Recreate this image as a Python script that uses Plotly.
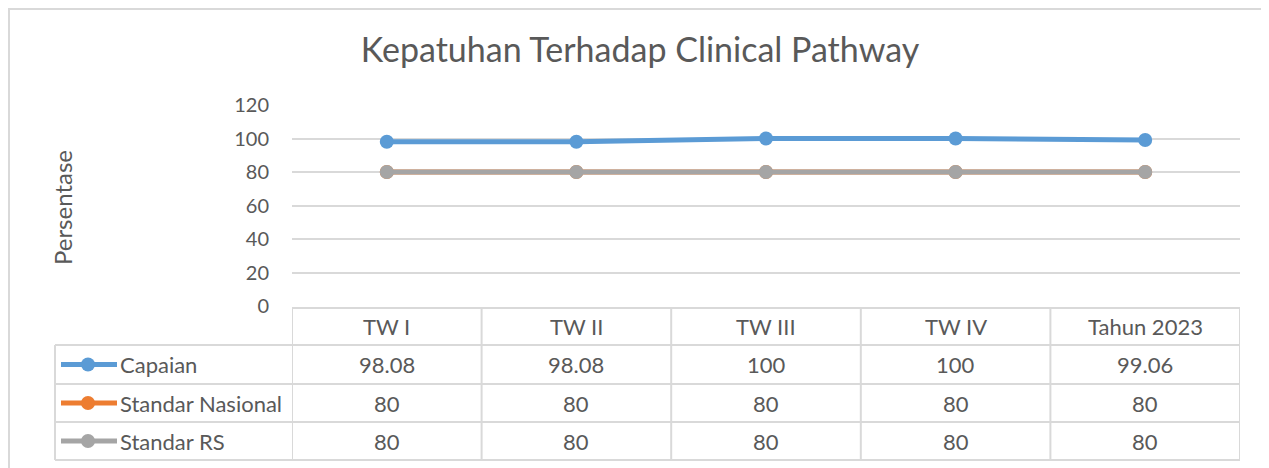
import plotly.graph_objects as go

categories = ["TW I", "TW II", "TW III", "TW IV", "Tahun 2023"]
capaian = [98.08, 98.08, 100, 100, 99.06]
standar_nasional = [80, 80, 80, 80, 80]
standar_rs = [80, 80, 80, 80, 80]
y_ticks = [0, 20, 40, 60, 80, 100, 120]

series_names = ["Capaian", "Standar Nasional", "Standar RS"]
series_values = [capaian, standar_nasional, standar_rs]
series_labels = [["98.08", "98.08", "100", "100", "99.06"], ["80"] * 5, ["80"] * 5]
series_colors = ["#5B9BD5", "#ED7D31", "#A5A5A5"]

FONT = "Lato"
TXT = "#595959"
GRID = "#D9D9D9"

OFF = 8  # page body margin offset
W, H = 1269 - OFF, 468 - OFF
# plot area in screen pixels
SL, SR, ST, SB = 292, 1240, 105, 306
L, R, T, B = SL - OFF, SR - OFF, ST - OFF, SB - OFF
pw, ph = R - L, B - T

def py(p):  # screen pixel y -> paper y
    return (B - (p - OFF)) / ph

def px(p):  # screen pixel x -> paper x
    return ((p - OFF) - L) / pw

fig = go.Figure()
idx = list(range(len(categories)))
for name, vals, col in zip(series_names, series_values, series_colors):
    fig.add_trace(go.Scatter(
        x=idx, y=vals, name=name, mode="lines+markers",
        line=dict(color=col, width=5),
        marker=dict(color=col, size=14),
        cliponaxis=False, showlegend=False,
    ))

shapes = []
annotations = []

# Outer chart border
shapes.append(dict(type="rect", xref="paper", yref="paper",
                   x0=px(9), x1=px(1268), y0=py(475), y1=py(9),
                   line=dict(color=GRID, width=2), fillcolor="rgba(0,0,0,0)", layer="below"))

# Table geometry
row_edges = [308, 345, 384, 422, 460]
label_left = 55
n = len(categories)
line_style = dict(color=GRID, width=2)
shapes.append(dict(type="line", xref="x", yref="paper", x0=-0.5, x1=n - 0.5,
                   y0=py(row_edges[0]), y1=py(row_edges[0]), line=line_style))
for e in row_edges[1:]:
    shapes.append(dict(type="line", xref="paper", yref="paper", x0=px(label_left), x1=1,
                       y0=py(e), y1=py(e), line=line_style))
shapes.append(dict(type="line", xref="paper", yref="paper", x0=px(label_left), x1=px(label_left),
                   y0=py(row_edges[1]), y1=py(row_edges[-1]), line=line_style))
for i in range(n + 1):
    shapes.append(dict(type="line", xref="x", yref="paper", x0=i - 0.5, x1=i - 0.5,
                       y0=py(row_edges[0]), y1=py(row_edges[-1]), line=line_style))

TF = 22
hc = (row_edges[0] + row_edges[1]) / 2
for i, c in enumerate(categories):
    annotations.append(dict(x=i, y=py(hc), xref="x", yref="paper", text=c, showarrow=False,
                            font=dict(family=FONT, size=TF, color=TXT), xanchor="center", yanchor="middle"))

for r, (name, labels, col) in enumerate(zip(series_names, series_labels, series_colors)):
    cy = (row_edges[r + 1] + row_edges[r + 2]) / 2
    for i, t in enumerate(labels):
        annotations.append(dict(x=i, y=py(cy), xref="x", yref="paper", text=t, showarrow=False,
                                font=dict(family=FONT, size=TF, color=TXT), xanchor="center", yanchor="middle"))
    shapes.append(dict(type="line", xref="paper", yref="paper", x0=px(61), x1=px(117),
                       y0=py(cy), y1=py(cy), line=dict(color=col, width=5)))
    shapes.append(dict(type="circle", xref="paper", yref="paper", x0=px(81), x1=px(95),
                       y0=py(cy + 7), y1=py(cy - 7), line=dict(color=col, width=0), fillcolor=col))
    annotations.append(dict(x=px(118), y=py(cy), xref="paper", yref="paper", text=name, showarrow=False,
                            font=dict(family=FONT, size=TF, color=TXT), xanchor="left", yanchor="middle"))

annotations.append(dict(x=px(62), y=py(208), xref="paper", yref="paper", text="Persentase",
                        textangle=-90, showarrow=False,
                        font=dict(family=FONT, size=24, color=TXT), xanchor="center", yanchor="middle"))

fig.update_layout(
    width=W, height=H,
    margin=dict(l=L, r=W - R, t=T, b=H - B, pad=0),
    paper_bgcolor="white", plot_bgcolor="white",
    title=dict(text="Kepatuhan Terhadap Clinical Pathway", xref="paper", x=px(640), xanchor="center",
               yref="container", y=1 - (50 - OFF) / H, yanchor="middle",
               font=dict(family=FONT, size=34, color=TXT)),
    xaxis=dict(range=[-0.5, n - 0.5], showticklabels=False, showgrid=False, zeroline=False,
               showline=False, fixedrange=True),
    yaxis=dict(range=[0, 120], tickvals=y_ticks, showgrid=True, gridcolor=GRID, gridwidth=2,
               zeroline=False, showline=False, ticks="", ticklabelstandoff=22,
               tickfont=dict(family=FONT, size=20, color=TXT), fixedrange=True),
    shapes=shapes, annotations=annotations,
    showlegend=False,
)

fig.write_html("out.html")
